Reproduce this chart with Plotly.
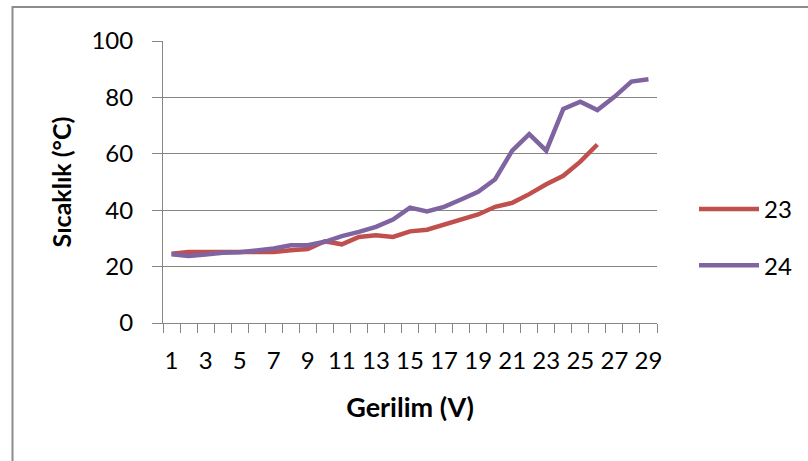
import plotly.graph_objects as go

voltage = list(range(1, 30))
series_23 = [24.6, 25.2, 25.2, 25.2, 25.1, 25.3, 25.2, 25.8, 26.2, 29.0,
             27.9, 30.5, 31.1, 30.5, 32.5, 33.1, 34.9, 37.0, 38.5, 41.2,
             42.6, 45.7, 49.2, 52.2, 57.2, 63.3]
series_24 = [24.4, 23.8, 24.3, 24.9, 25.1, 25.6, 26.4, 27.6, 27.6, 28.8,
             30.8, 32.3, 34.1, 36.7, 40.9, 39.6, 41.2, 43.8, 46.5, 51.0,
             61.1, 67.0, 61.1, 75.9, 78.5, 75.5, 80.2, 85.6, 86.4]
y_ticks = [0, 20, 40, 60, 80, 100]

FONT = "Lato"
GRAY = "#868686"
W, H = 808, 461
L, R, T, B = 163, 151, 41, 138
pw, ph = W - L - R, H - T - B

fig = go.Figure()
fig.add_trace(go.Scatter(x=voltage[:len(series_23)], y=series_23, name="23", mode="lines",
                         line=dict(color="#C0504D", width=4.5), legendgroup="a"))
fig.add_trace(go.Scatter(x=voltage, y=series_24, name="24", mode="lines",
                         line=dict(color="#8064A2", width=4.5), legendgroup="b"))

def px2paper_x(p):
    return (p - L) / pw

def px2paper_y(p):
    return (H - B - p) / ph

fig.update_layout(
    width=W, height=H,
    margin=dict(l=L, r=R, t=T, b=B, autoexpand=False),
    paper_bgcolor="white", plot_bgcolor="white",
    font=dict(family=FONT, size=24, color="#000000"),
    showlegend=True,
    legend=dict(x=px2paper_x(694), y=px2paper_y(187), xanchor="left", yanchor="top",
                font=dict(size=24), tracegroupgap=22, itemwidth=60,
                bgcolor="rgba(0,0,0,0)"),
    xaxis=dict(range=[0.5, 29.5], tickmode="linear", tick0=1, dtick=2, ticks="",
               showgrid=False, zeroline=False,
               showline=True, linecolor=GRAY, linewidth=1,
               minor=dict(ticks="outside", ticklen=9, tickcolor=GRAY, tick0=0.5, dtick=1,
                          showgrid=False),
               ticklabelstandoff=16,
               title=dict(text="<b>Gerilim (V)</b>", font=dict(size=27), standoff=25)),
    yaxis=dict(range=[0, 100], tickvals=y_ticks, ticks="outside", ticklen=10, tickcolor=GRAY,
               showgrid=True, gridcolor=GRAY, gridwidth=1, zeroline=False,
               showline=True, linecolor=GRAY, linewidth=1,
               ticklabelstandoff=14,
               title=dict(text="<b>Sıcaklık (°C)</b>", font=dict(size=25), standoff=12)),
    shapes=[dict(type="rect", xref="paper", yref="paper",
                 x0=px2paper_x(12.5), x1=px2paper_x(830),
                 y0=px2paper_y(480), y1=px2paper_y(7),
                 line=dict(color="#8c8c8c", width=2), layer="below")],
)
fig.write_html("out.html")
